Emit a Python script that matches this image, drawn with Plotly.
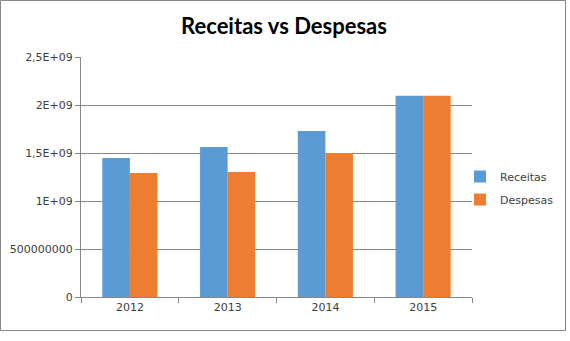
import plotly.graph_objects as go

# Annual revenue vs. expenses
anos = ["2012", "2013", "2014", "2015"]
receitas = [1.448e9, 1.562e9, 1.729e9, 2.096e9]
despesas = [1.292e9, 1.302e9, 1.500e9, 2.096e9]

y_tickvals = [0, 5e8, 1e9, 1.5e9, 2e9, 2.5e9]
y_ticktext = ["0", "500000000", "1E+09", "1,5E+09", "2E+09", "2,5E+09"]

AZUL = "#5B9BD5"
LARANJA = "#ED7D31"
CINZA = "#868686"
TEXTO = "#404040"
FONTE = "DejaVu Sans"

fig = go.Figure()
fig.add_trace(go.Bar(x=anos, y=receitas, name="Receitas", marker_color=AZUL,
                     marker_line_width=0, legendgroup="r"))
fig.add_trace(go.Bar(x=anos, y=despesas, name="Despesas", marker_color=LARANJA,
                     marker_line_width=0, legendgroup="d"))

W, H = 570, 341
L, R, T, B = 81, 98, 57, 44
pw, ph = W - L - R, H - T - B

# outer chart frame, expressed in plot-area paper units
fx0 = (0.5 - L) / pw
fx1 = (565.5 - L) / pw
fy1 = (H - B - 0.5) / ph
fy0 = (H - B - 330.5) / ph

fig.update_layout(
    width=W, height=H,
    margin=dict(l=L, r=R, t=T, b=B, autoexpand=False),
    paper_bgcolor="white", plot_bgcolor="white",
    barmode="group", bargap=0.436, bargroupgap=0,
    title=dict(text="<b>Receitas vs Despesas</b>", x=284 / W, xanchor="center",
               y=1 - 26 / H, yanchor="middle",
               font=dict(family="Lato", size=22, color="#000000")),
    font=dict(family=FONTE, size=11, color=TEXTO),
    legend=dict(x=(460 - L) / pw, xanchor="left", y=(H - B - 188) / ph, yanchor="middle",
                font=dict(family=FONTE, size=11, color=TEXTO),
                tracegroupgap=4, traceorder="grouped", itemwidth=30,
                bgcolor="rgba(0,0,0,0)"),
    xaxis=dict(type="category", showline=True, linecolor=CINZA, linewidth=1,
               ticks="outside", tickson="boundaries", ticklen=5, tickcolor=CINZA,
               showgrid=False, tickfont=dict(family=FONTE, size=11, color=TEXTO)),
    yaxis=dict(range=[0, 2.5e9], tickvals=y_tickvals, ticktext=y_ticktext,
               showline=True, linecolor=CINZA, linewidth=1,
               ticks="outside", ticklen=5, tickcolor=CINZA,
               showgrid=True, gridcolor=CINZA, gridwidth=1, zeroline=False,
               tickfont=dict(family=FONTE, size=11, color=TEXTO)),
    shapes=[dict(type="rect", xref="paper", yref="paper",
                 x0=fx0, x1=fx1, y0=fy0, y1=fy1,
                 line=dict(color=CINZA, width=1), layer="below")],
)

fig.write_html("out.html")
